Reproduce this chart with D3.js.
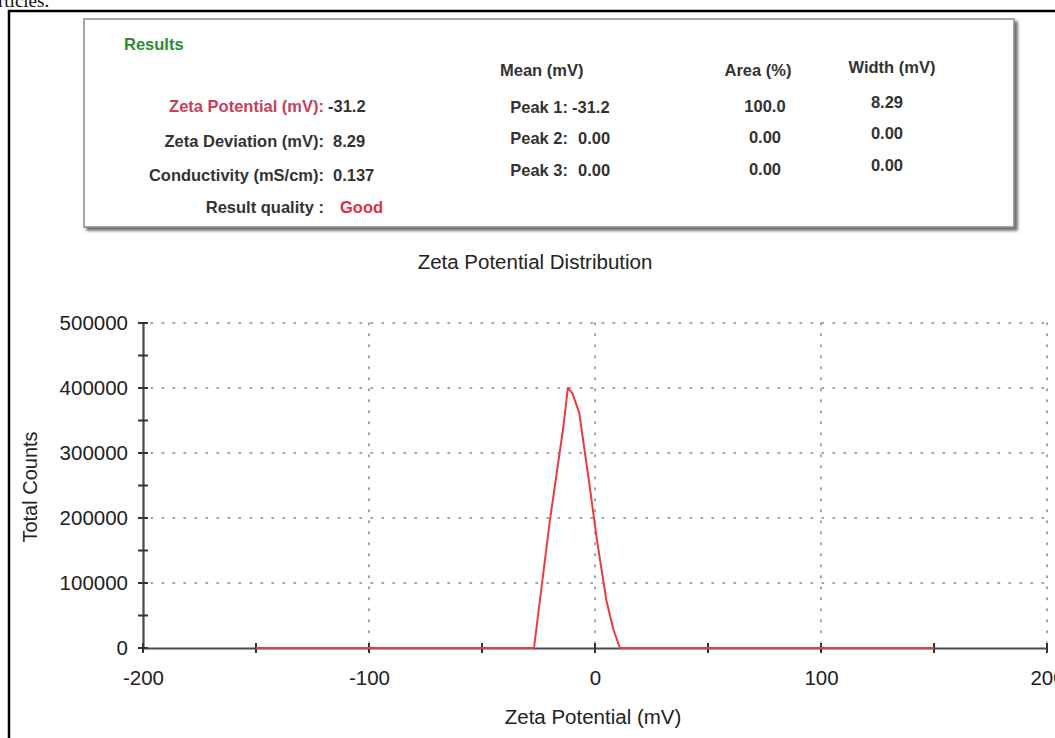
<!DOCTYPE html>
<html>
<head>
<meta charset="utf-8">
<script src="https://cdn.jsdelivr.net/npm/d3@7"></script>
<style>
  body { margin: 0; background: #fff; }
  svg { display: block; font-family: "Liberation Sans", Arial, sans-serif; }
</style>
</head>
<body>
<div id="chart"></div>
<script>
// distribution
const zeta = [-150, -27, -20, -14, -12, -10, -7, -3, 1, 5, 8, 11, 150];
const counts = [0, 0, 195000, 340000, 400000, 392000, 362000, 265000, 163000, 74000, 30000, 0, 0];

const xTicks = [-200, -100, 0, 100, 200];
const xMinor = [-200, -150, -100, -50, 0, 50, 100, 150, 200];
const yTicks = [0, 100000, 200000, 300000, 400000, 500000];
const yMinor = [50000, 150000, 250000, 350000, 450000];

// results table
const summaryLabels = ['Zeta Potential (mV):', 'Zeta Deviation (mV):', 'Conductivity (mS/cm):', 'Result quality :'];
const summaryValues = ['-31.2', '8.29', '0.137', 'Good'];
const peakLabels = ['Peak 1:', 'Peak 2:', 'Peak 3:'];
const peakMeans = ['-31.2', '0.00', '0.00'];
const peakAreas = ['100.0', '0.00', '0.00'];
const peakWidths = ['8.29', '0.00', '0.00'];

const width = 1055;
const height = 738;

const svg = d3.select('#chart').append('svg')
  .attr('width', width)
  .attr('height', height);

svg.append('rect').attr('width', width).attr('height', height).attr('fill', '#fff');

// bit of the sentence above the figure
svg.append('text')
  .attr('x', -2).attr('y', 7)
  .attr('font-family', '"Liberation Serif", serif')
  .attr('font-size', 19)
  .attr('fill', '#111')
  .text('rticles.');

// figure frame
svg.append('path')
  .attr('d', `M9,${height} V11 H${width}`)
  .attr('fill', 'none')
  .attr('stroke', '#000')
  .attr('stroke-width', 2.5);

// ---- results box
const defs = svg.append('defs');
const shadow = defs.append('filter').attr('id', 'shadow')
  .attr('x', '-5%').attr('y', '-5%').attr('width', '110%').attr('height', '115%');
shadow.append('feDropShadow')
  .attr('dx', 3).attr('dy', 3).attr('stdDeviation', 1.5)
  .attr('flood-color', '#444').attr('flood-opacity', 0.8);

svg.append('rect')
  .attr('x', 84).attr('y', 19)
  .attr('width', 930).attr('height', 208)
  .attr('fill', '#fff')
  .attr('stroke', '#8a8a8a')
  .attr('stroke-width', 1.5)
  .attr('filter', 'url(#shadow)');

const box = svg.append('g')
  .attr('font-size', 16.5)
  .attr('font-weight', 'bold')
  .attr('fill', '#333');

box.append('text').attr('x', 124).attr('y', 50).attr('fill', '#2e8b2e').text('Results');

const rowY = [112, 147, 181, 213];
const peakY = [113, 144, 176];

box.selectAll('.slabel')
  .data(summaryLabels)
  .enter().append('text')
  .attr('x', 324)
  .attr('y', (d, i) => rowY[i])
  .attr('text-anchor', 'end')
  .attr('fill', (d, i) => i === 0 ? '#c8405a' : '#333')
  .text(d => d);

box.selectAll('.svalue')
  .data(summaryValues)
  .enter().append('text')
  .attr('x', (d, i) => i === 3 ? 340 : (i === 0 ? 328 : 333))
  .attr('y', (d, i) => rowY[i])
  .attr('fill', (d, i) => i === 3 ? '#e03040' : '#333')
  .text(d => d);

box.append('text').attr('x', 500).attr('y', 76).text('Mean (mV)');
box.append('text').attr('x', 758).attr('y', 76).attr('text-anchor', 'middle').text('Area (%)');
box.append('text').attr('x', 892).attr('y', 73).attr('text-anchor', 'middle').text('Width (mV)');

box.selectAll('.plabel')
  .data(peakLabels)
  .enter().append('text')
  .attr('x', 568)
  .attr('y', (d, i) => peakY[i])
  .attr('text-anchor', 'end')
  .text(d => d);

box.selectAll('.pmean')
  .data(peakMeans)
  .enter().append('text')
  .attr('x', (d, i) => i === 0 ? 572 : 578)
  .attr('y', (d, i) => peakY[i])
  .text(d => d);

box.selectAll('.parea')
  .data(peakAreas)
  .enter().append('text')
  .attr('x', 765)
  .attr('y', (d, i) => peakY[i] - 1)
  .attr('text-anchor', 'middle')
  .text(d => d);

box.selectAll('.pwidth')
  .data(peakWidths)
  .enter().append('text')
  .attr('x', 887)
  .attr('y', (d, i) => peakY[i] - 5)
  .attr('text-anchor', 'middle')
  .text(d => d);

// ---- distribution chart
const x = d3.scaleLinear().domain([-200, 200]).range([143, 1047]);
const y = d3.scaleLinear().domain([0, 500000]).range([648, 323]);

svg.append('text')
  .attr('x', 535).attr('y', 269)
  .attr('text-anchor', 'middle')
  .attr('font-size', 20.5)
  .attr('fill', '#222')
  .text('Zeta Potential Distribution');

// dotted grid
const grid = svg.append('g')
  .attr('stroke', '#888')
  .attr('stroke-width', 1.6)
  .attr('stroke-dasharray', '1.6,9.4')
  .attr('stroke-linecap', 'round');

grid.selectAll('.hgrid')
  .data(yTicks.filter(d => d > 0))
  .enter().append('line')
  .attr('x1', x(-200) + 8).attr('x2', x(200))
  .attr('y1', d => y(d)).attr('y2', d => y(d));

grid.selectAll('.vgrid')
  .data(xTicks.filter(d => d > -200))
  .enter().append('line')
  .attr('x1', d => x(d)).attr('x2', d => x(d))
  .attr('y1', y(500000)).attr('y2', y(0) - 6);

// axes
const yAxis = svg.append('g')
  .attr('transform', `translate(${x(-200)},0)`)
  .call(d3.axisLeft(y).tickValues(yTicks).tickFormat(d => String(d)).tickSize(0).tickPadding(15));

const xAxis = svg.append('g')
  .attr('transform', `translate(0,${y(0)})`)
  .call(d3.axisBottom(x).tickValues(xTicks).tickFormat(d => String(d)).tickSize(0).tickPadding(22));

[yAxis, xAxis].forEach(a => {
  a.select('.domain').attr('stroke', '#4a4a4a').attr('stroke-width', 2.2);
  a.selectAll('text').attr('font-size', 20.5).attr('fill', '#222').attr('font-family', '"Liberation Sans", Arial, sans-serif');
});

// ticks crossing the axis lines
svg.append('g').selectAll('line')
  .data(yTicks.concat(yMinor))
  .enter().append('line')
  .attr('x1', x(-200) - 5).attr('x2', x(-200) + 5)
  .attr('y1', d => y(d)).attr('y2', d => y(d))
  .attr('stroke', '#333').attr('stroke-width', 2);

svg.append('g').selectAll('line')
  .data(xMinor)
  .enter().append('line')
  .attr('x1', d => x(d)).attr('x2', d => x(d))
  .attr('y1', y(0) - 5).attr('y2', y(0) + 5)
  .attr('stroke', '#333').attr('stroke-width', 2);

// distribution curve
const line = d3.line()
  .x((d, i) => x(zeta[i]))
  .y(d => y(d));

svg.append('path')
  .datum(counts)
  .attr('d', line)
  .attr('fill', 'none')
  .attr('stroke', '#ee3a3a')
  .attr('stroke-width', 2)
  .attr('stroke-linejoin', 'round');

// axis titles
svg.append('text')
  .attr('transform', 'translate(37,487) rotate(-90)')
  .attr('text-anchor', 'middle')
  .attr('font-size', 20)
  .attr('fill', '#222')
  .text('Total Counts');

svg.append('text')
  .attr('x', 593).attr('y', 724)
  .attr('text-anchor', 'middle')
  .attr('font-size', 20.5)
  .attr('fill', '#222')
  .text('Zeta Potential (mV)');
</script>
</body>
</html>
